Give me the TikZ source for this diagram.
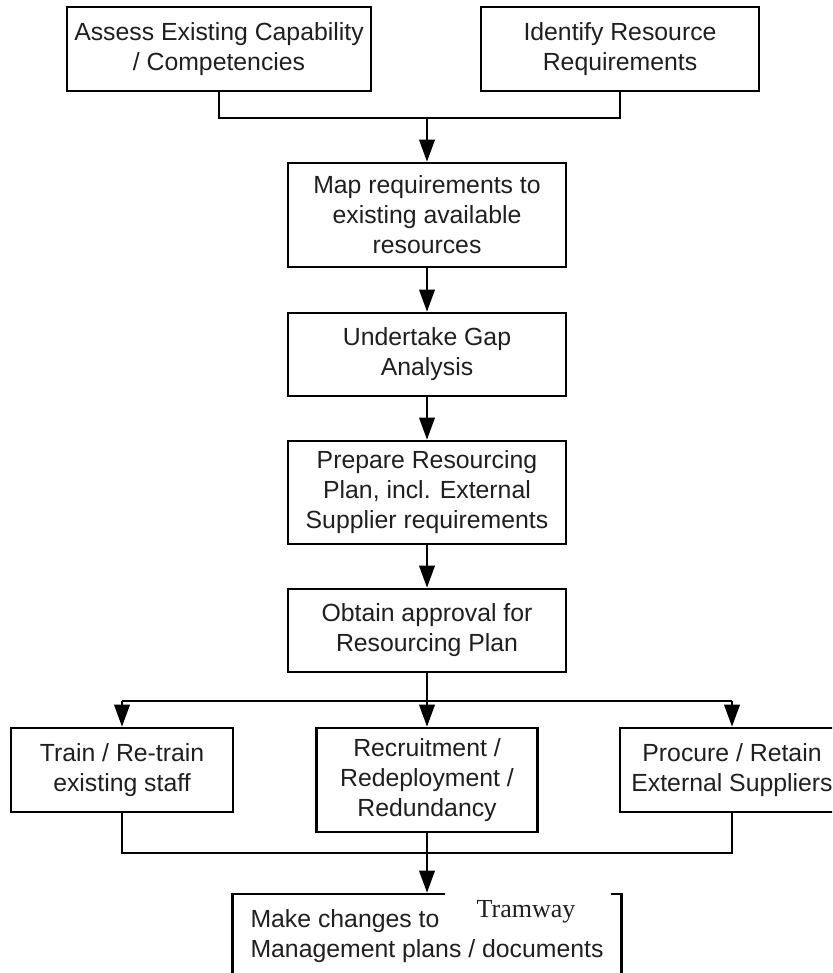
\documentclass[tikz,border=0pt]{standalone}
\usepackage{fontspec}
\setmainfont{Liberation Sans}
\newfontfamily\serifface{Liberation Serif}
\usetikzlibrary{arrows.meta}
\begin{document}
\begin{tikzpicture}[x=0.75pt,y=-0.75pt,
  bx/.style 2 args={draw, line width=1.9pt, align=center, inner sep=0pt,
    minimum width=#1*0.75pt, minimum height=#2*0.75pt,
    font=\fontsize{18.6pt}{22.5pt}\selectfont, text=black!88},
  link/.style={line width=1.9pt},
  flow/.style={line width=1.9pt, -{Triangle[length=16.5pt,width=11.5pt]}}]
\useasboundingbox (0,0) rectangle (832,973);
\begin{scope}
\clip (0,0) rectangle (832,973);

% top row
\node[bx={304}{84}] (b1) at (219,49) {Assess Existing Capability\\/ Competencies};
\node[bx={278}{84}] (b2) at (620,49) {Identify Resource\\Requirements};

% main column
\node[bx={278}{104}] (b3) at (427,215) {Map requirements to\\existing available\\resources};
\node[bx={278}{83}] (b4) at (427,354.5) {Undertake Gap\\Analysis};
\node[bx={278}{103}] (b5) at (427,492.5) {Prepare Resourcing\\Plan, incl. External\\Supplier requirements};
\node[bx={278}{83}] (b6) at (427,630.5) {Obtain approval for\\Resourcing Plan};

% three branches
\node[bx={222}{84}] (b7) at (122,770) {Train / Re-train\\existing staff};
\node[bx={221}{104}] (b8) at (427,780) {Recruitment /\\Redeployment /\\Redundancy};
\node[bx={224}{84}] (b9) at (732,770) {Procure / Retain\\External Suppliers};

% final step
\node[bx={389}{84}, align=left] (b10) at (427,936) {Make changes to\\Management plans / documents};
\fill[white] (445,889) rectangle (611,899);
\node[font=\serifface\fontsize{19.5pt}{22pt}\selectfont, text=black!88, anchor=base] (tw) at (526,917) {Tramway};

% merge of the two inputs
\coordinate (j1) at (427,118);
\draw[link] (b1.south) -- (b1.south |- j1) -- (b2.south |- j1) -- (b2.south);
\draw[flow] (j1) -- (b3.north);
\draw[flow] (b3) -- (b4);
\draw[flow] (b4) -- (b5);
\draw[flow] (b5) -- (b6);

% split into the three branches
\coordinate (j2) at (427,701);
\draw[link] (b6.south) -- (j2);
\draw[link] (b7.north |- j2) -- (b9.north |- j2);
\draw[flow] (b7.north |- j2) -- (b7.north);
\draw[flow] (j2) -- (b8.north);
\draw[flow] (b9.north |- j2) -- (b9.north);

% merge of the branches
\coordinate (j3) at (427,853);
\draw[link] (b7.south) -- (b7.south |- j3) -- (b9.south |- j3) -- (b9.south);
\draw[flow] (b8.south) -- (b10.north);
\end{scope}
\end{tikzpicture}
\end{document}
